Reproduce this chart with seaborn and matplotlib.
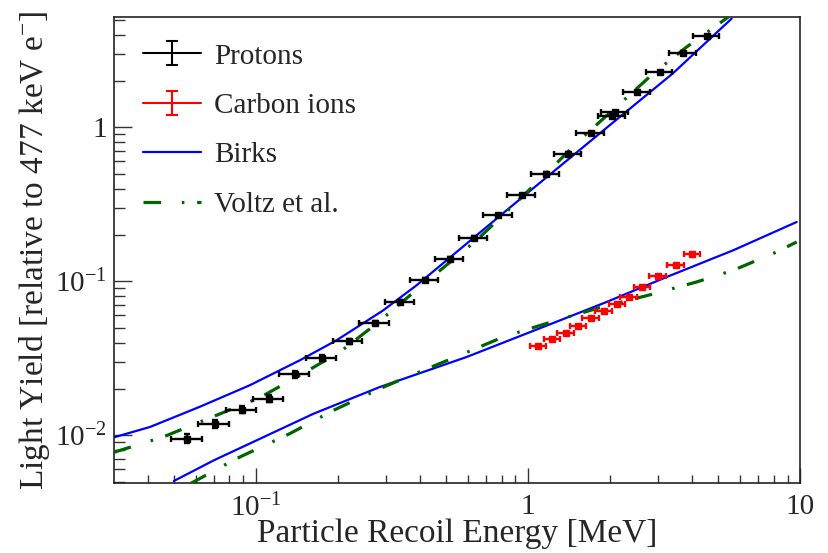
import numpy as np
import pandas as pd
import matplotlib
matplotlib.use("Agg")
import matplotlib.pyplot as plt
import seaborn as sns
from matplotlib.lines import Line2D
from matplotlib.path import Path
from matplotlib.ticker import FixedLocator, FixedFormatter, NullFormatter, LogLocator

# ---------------- data ----------------
proton_E = [0.0559, 0.0707, 0.0890, 0.1116, 0.1395, 0.1749, 0.2192, 0.2739, 0.3384,
            0.4181, 0.5166, 0.6328, 0.7777, 0.948, 1.162, 1.407, 1.701, 2.035, 2.09,
            2.522, 3.057, 3.724, 4.539]
proton_LY = [0.00952, 0.01184, 0.01468, 0.01731, 0.02489, 0.03177, 0.04076, 0.0536, 0.0734,
             0.1015, 0.1404, 0.1922, 0.2683, 0.3618, 0.4989, 0.675, 0.9183, 1.184, 1.257,
             1.695, 2.286, 3.055, 3.898]
proton_Eerr = [0.0073, 0.0092, 0.0114, 0.0142, 0.0176, 0.0219, 0.0272, 0.0337, 0.0413,
               0.0506, 0.062, 0.0759, 0.0925, 0.112, 0.136, 0.163, 0.196, 0.232, 0.238,
               0.285, 0.342, 0.413, 0.499]
proton_LYerr = [0.00062, 0.00071, 0.00081, 0.00087, 0.00124, 0.00143, 0.00163, 0.00188, 0.0022,
                0.003, 0.0035, 0.0048, 0.0054, 0.0072, 0.0100, 0.0135, 0.0184, 0.0237, 0.0251,
                0.0339, 0.0457, 0.0611, 0.078]

carbon_E = [1.091, 1.230, 1.376, 1.531, 1.701, 1.903, 2.133, 2.347, 2.632, 3.006, 3.501, 4.015]
carbon_LY = [0.0380, 0.0420, 0.0463, 0.0516, 0.0578, 0.0639, 0.0709, 0.0787, 0.0917, 0.1081,
             0.1284, 0.1513]
carbon_Eerr = [0.076, 0.086, 0.096, 0.107, 0.119, 0.133, 0.149, 0.164, 0.184, 0.210, 0.245, 0.281]
carbon_LYerr = [0.0006, 0.0006, 0.0007, 0.0008, 0.0009, 0.001, 0.0011, 0.0012, 0.0014, 0.0016,
                0.0019, 0.0023]

birks_p_E = [0.0301, 0.0408, 0.0622, 0.0950, 0.1451, 0.1980, 0.2929, 0.3898, 0.5166,
             0.835, 1.043, 1.839, 3.413, 5.61]
birks_p_LY = [0.00970, 0.01132, 0.01531, 0.02113, 0.03069, 0.04139, 0.0645, 0.0942,
              0.1425, 0.2891, 0.400, 0.914, 2.242, 5.08]

voltz_p_E = [0.0301, 0.0456, 0.0717, 0.1034, 0.1451, 0.2036, 0.2778, 0.4009, 0.6475, 0.871,
             1.205, 1.593, 2.119, 2.888, 3.832, 5.45]
voltz_p_LY = [0.00776, 0.00975, 0.01349, 0.01757, 0.02453, 0.03475, 0.0531, 0.0918, 0.1846,
              0.3038, 0.530, 0.865, 1.36, 2.232, 3.322, 5.20]

birks_c_E = [0.04995, 0.0701, 0.1633, 0.2858, 0.5953, 1.138, 1.947, 3.235, 5.685, 9.725]
birks_c_LY = [0.00505, 0.00688, 0.01383, 0.02059, 0.03224, 0.0505, 0.0734, 0.1066,
              0.1590, 0.2427]

voltz_c_E = [0.0575, 0.0849, 0.1334, 0.1924, 0.2858, 0.358, 0.5623, 0.8113, 1.275, 1.839,
             2.809, 4.171, 5.685, 8.21, 9.725]
voltz_c_LY = [0.004857, 0.00706, 0.01026, 0.0145, 0.02010, 0.0238, 0.0331, 0.0435, 0.0558,
              0.0675, 0.0817, 0.0990, 0.1179, 0.155, 0.180]

x_ticks = [0.1, 1, 10]
x_ticklabels = [r"$10^{-1}$", "1", "10"]
y_ticks = [0.01, 0.1, 1]
y_ticklabels = [r"$10^{-2}$", r"$10^{-1}$", "1"]

legend_labels = ["Protons", "Carbon ions", "Birks", "Voltz et al."]

# ---------------- style ----------------
sns.set_theme(style="white")
plt.rcParams["font.family"] = ["Liberation Serif", "DejaVu Serif"]
plt.rcParams["mathtext.fontset"] = "custom"
plt.rcParams["mathtext.rm"] = "Liberation Serif"
plt.rcParams["mathtext.it"] = "Liberation Serif:italic"
plt.rcParams["mathtext.bf"] = "Liberation Serif:bold"

BLUE = "#0000ff"
GREEN = "#006400"
RED = "#ff0000"
dashdot = (0, (5.5, 6.5, 0.8, 4.0))

fig = plt.figure(figsize=(8.29, 5.53), dpi=100)
ax = fig.add_axes([114 / 829, 70 / 553, 686 / 829, 466 / 553])
ax.set_xscale("log")
ax.set_yscale("log")

# model curves
sns.lineplot(x=birks_p_E, y=birks_p_LY, ax=ax, color=BLUE, lw=1.6, sort=False, estimator=None, zorder=2)
sns.lineplot(x=birks_c_E, y=birks_c_LY, ax=ax, color=BLUE, lw=1.6, sort=False, estimator=None, zorder=2)
sns.lineplot(x=voltz_p_E, y=voltz_p_LY, ax=ax, color=GREEN, lw=2.3, linestyle=dashdot,
             sort=False, estimator=None, zorder=3)
sns.lineplot(x=voltz_c_E, y=voltz_c_LY, ax=ax, color=GREEN, lw=2.3, linestyle=dashdot,
             sort=False, estimator=None, zorder=3)

# data points
ax.errorbar(proton_E, proton_LY, xerr=proton_Eerr, yerr=proton_LYerr, fmt="s", color="black",
            ms=4, elinewidth=1.7, capsize=2.5, capthick=1.7, zorder=5)
ax.errorbar(carbon_E, carbon_LY, xerr=carbon_Eerr, yerr=carbon_LYerr, fmt="s", color=RED,
            ms=4, elinewidth=1.7, capsize=2.5, capthick=1.7, zorder=5)

ax.set_xlim(0.0301, 10)
ax.set_ylim(0.0049, 5.2)

# ticks
ax.xaxis.set_major_locator(FixedLocator(x_ticks))
ax.xaxis.set_major_formatter(FixedFormatter(x_ticklabels))
ax.xaxis.set_minor_locator(LogLocator(base=10, subs=np.arange(2, 10)))
ax.xaxis.set_minor_formatter(NullFormatter())
ax.yaxis.set_major_locator(FixedLocator(y_ticks))
ax.yaxis.set_major_formatter(FixedFormatter(y_ticklabels))
ax.yaxis.set_minor_locator(LogLocator(base=10, subs=np.arange(2, 10)))
ax.yaxis.set_minor_formatter(NullFormatter())

ax.tick_params(which="both", direction="in", top=False, right=False, bottom=True, left=True,
               color="#333333")
ax.tick_params(axis="y", which="major", length=13, width=1, labelsize=21, pad=5)
ax.tick_params(axis="y", which="minor", length=8, width=1)
ax.tick_params(axis="x", which="major", length=10.5, width=1, labelsize=21, pad=8)
ax.tick_params(axis="x", which="minor", length=6, width=1)
for s in ax.spines.values():
    s.set_color("#222222")
    s.set_linewidth(1.2)

ax.set_xlabel("Particle Recoil Energy [MeV]", fontsize=24, labelpad=-3)
ax.set_ylabel(r"Light Yield [relative to 477 keV e$^{-}$]", fontsize=24, labelpad=2)

# legend
ebar = Path([(0, -1), (0, 1), (-0.5, 1), (0.5, 1), (-0.5, -1), (0.5, -1)],
            [Path.MOVETO, Path.LINETO, Path.MOVETO, Path.LINETO, Path.MOVETO, Path.LINETO])
h_p = (Line2D([], [], color="black", lw=1.5),
       Line2D([], [], color="black", marker=ebar, ms=17, mew=1.5, mfc="none", ls="none"))
h_c = (Line2D([], [], color=RED, lw=1.5),
       Line2D([], [], color=RED, marker=ebar, ms=17, mew=1.5, mfc="none", ls="none"))
h_b = Line2D([], [], color=BLUE, lw=1.6)
h_v = Line2D([], [], color=GREEN, lw=2.3, linestyle=dashdot)
ax.legend([h_p, h_c, h_b, h_v], legend_labels, loc="upper left", bbox_to_anchor=(0.042, 0.944),
          frameon=False, fontsize=21, handlelength=2.0, handletextpad=0.45, labelspacing=0.79,
          borderaxespad=0, borderpad=0, numpoints=1)

fig.savefig("out.png", dpi=100)
